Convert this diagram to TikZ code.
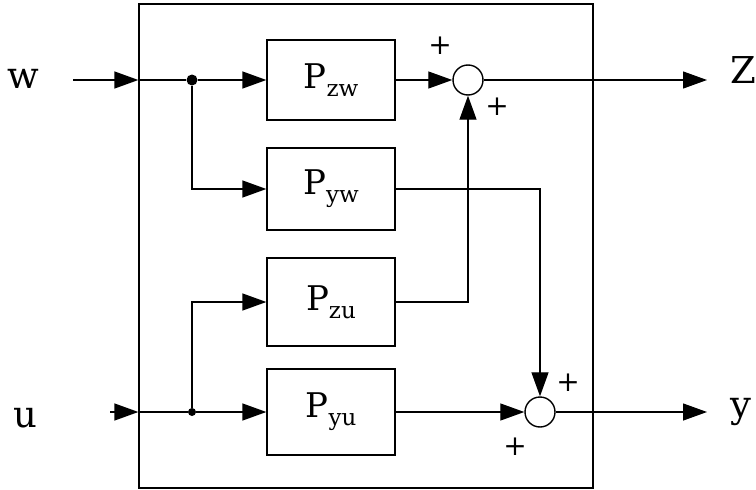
\documentclass[tikz,border=0pt]{standalone}
\usepackage{fontspec}
\setmainfont{DejaVu Serif}
\usetikzlibrary{arrows.meta}

\newcommand{\blksub}[1]{{\fontsize{23}{23}\selectfont\raisebox{-8pt}{#1}}}

\begin{document}
\begin{tikzpicture}[x=1pt,y=-1pt,
  blk/.style={draw,line width=1.3pt,minimum width=128pt,inner sep=0pt,font=\fontsize{34}{34}\selectfont},
  sumnode/.style={circle,draw,line width=1.4pt,minimum size=30pt,inner sep=0pt},
  dot/.style={circle,fill,inner sep=0pt,minimum size=11pt},
  sig/.style={line width=1.3pt},
  arr/.style={sig,-{Triangle[length=24pt,width=17pt]}},
  io/.style={font=\fontsize{37}{37}\selectfont,anchor=base},
  sgn/.style={font=\fontsize{28}{28}\selectfont}]
\useasboundingbox (0,0) rectangle (756,490);
% plant frame
\node[draw,line width=1.3pt,minimum width=454pt,minimum height=484pt] (plant) at (366,246) {};
% blocks
\node[blk,minimum height=80pt] (pzw) at (331,80) {P\blksub{zw}};
\node[blk,minimum height=82pt] (pyw) at (331,189) {P\blksub{yw}};
\node[blk,minimum height=88pt] (pzu) at (331,302) {P\blksub{zu}};
\node[blk,minimum height=86pt] (pyu) at (331,412) {P\blksub{yu}};
% summing junctions
\node[sumnode] (s1) at (468,80) {};
\node[sumnode] (s2) at (540,412) {};
\node[sgn] (p1) at (440,46) {+};
\node[sgn] (p2) at (497,107) {+};
\node[sgn] (p3) at (568,383) {+};
\node[sgn] (p4) at (515,447) {+};
% branch points
\node[dot] (jw) at (192,80) {};
\node[dot,minimum size=8pt] (ju) at (192,412) {};
% signals
\node[io] (w) at (23,88) {w};
\node[io] (u) at (25,427) {u};
\node[io] (z) at (743,83) {Z};
\node[io] (y) at (741,417) {y};
\coordinate (win) at (73,80);
\coordinate (uin) at (110,412);
\coordinate (zout) at (707,80);
\coordinate (yout) at (707,412);
% inputs
\draw[arr] (win) -- (plant.west |- win);
\draw[sig] (plant.west |- win) -- (jw);
\draw[arr] (jw) -- (pzw.west);
\draw[arr] (jw) |- (pyw.west);
\draw[arr] (uin) -- (plant.west |- uin);
\draw[sig] (plant.west |- uin) -- (ju);
\draw[arr] (ju) -- (pyu.west);
\draw[arr] (ju) |- (pzu.west);
% outputs
\draw[arr] (pzw.east) -- (s1.west);
\draw[arr] (pzu.east) -| (s1.south);
\draw[arr] (pyw.east) -| (s2.north);
\draw[arr] (pyu.east) -- (s2.west);
\draw[arr] (s1.east) -- (zout);
\draw[arr] (s2.east) -- (yout);
\end{tikzpicture}
\end{document}
